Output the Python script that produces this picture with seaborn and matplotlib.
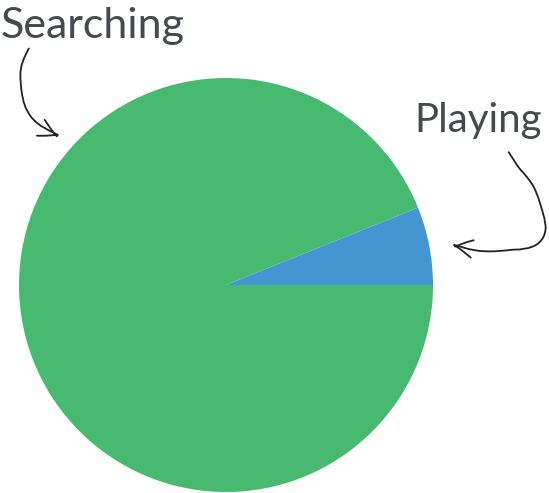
import matplotlib
matplotlib.use("Agg")
import matplotlib.pyplot as plt
import seaborn as sns

labels = ["Playing", "Searching"]
values = [6.1, 93.9]
colors = ["#4396D2", "#47BA6F"]

sns.set_style("white")
plt.rcParams['font.family'] = ['Lato', 'DejaVu Sans']

W, H = 549, 493
fig = plt.figure(figsize=(W / 100, H / 100), dpi=100)
cx, cy, r = 226, 285, 207
ax = fig.add_axes([(cx - r) / W, (H - cy - r) / H, 2 * r / W, 2 * r / H])
ax.pie(values, colors=colors, startangle=0, counterclock=True,
       wedgeprops=dict(linewidth=0))
ax.set_xlim(-1, 1)
ax.set_ylim(-1, 1)
ax.set_aspect('auto')
ax.axis('off')

txt_color = "#454a4f"
fig.text(1 / W, 1 - 38 / H, labels[1], fontsize=31, color=txt_color,
         va='baseline', ha='left', fontweight='normal')
fig.text(414 / W, 1 - 132 / H, labels[0], fontsize=29, color=txt_color,
         va='baseline', ha='left', fontweight='normal')

def arrow(x0, y0, x1, y1, rad):
    a = fig.add_artist(matplotlib.patches.FancyArrowPatch(
        (x0 / W, 1 - y0 / H), (x1 / W, 1 - y1 / H), transform=fig.transFigure,
        arrowstyle='->,head_length=9,head_width=4', connectionstyle=f'arc3,rad={rad}',
        color='#222222', lw=1.3, mutation_scale=1.5))
    a.set_sketch_params(1, 60, 2)

arrow(30, 46, 62, 138, 0.5)
arrow(507, 150, 449, 245, -1.35)

fig.savefig("out.png", dpi=100)
